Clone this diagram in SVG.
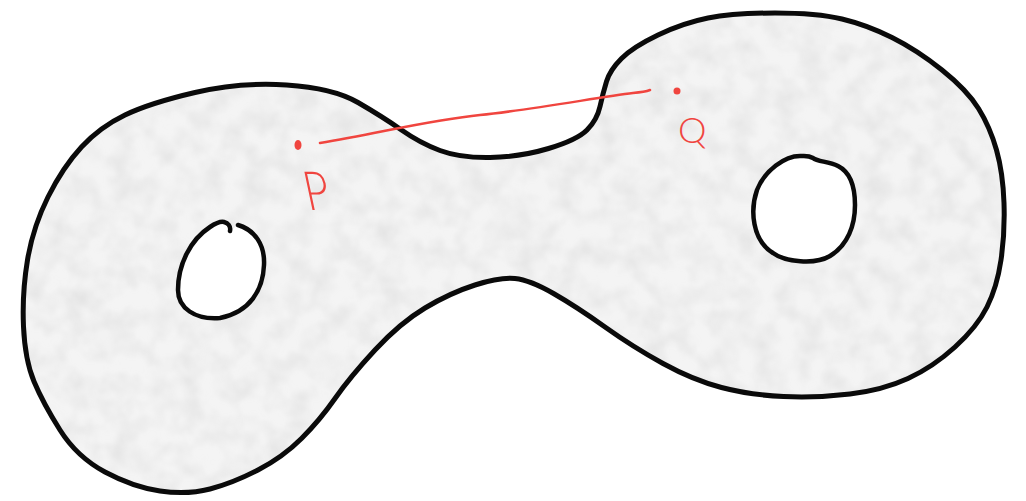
<svg xmlns="http://www.w3.org/2000/svg" width="1026" height="501" viewBox="0 0 1026 501">
  <defs>
    <style>
      .outline { fill: none; stroke: #0a0a0a; stroke-width: 5; stroke-linecap: round; stroke-linejoin: round; }
      .hole { fill: none; stroke: #0a0a0a; stroke-width: 4.5; stroke-linecap: round; stroke-linejoin: round; }
      .ink { fill: none; stroke: #f0453f; stroke-width: 2.5; stroke-linecap: round; }
      .dot { fill: #f0453f; }
      .label { fill: #f0453f; font-family: "Lato", "Liberation Sans", sans-serif; font-weight: 300; }
    </style>
    <!-- outer boundary of the two-holed surface -->
    <path id="rim" d="M195 92.5 Q240 82 286.5 85 Q333 88 358 102.5 Q383 117 401.5 130 Q420 143 440 150.5 Q460 158 490 157.5 Q520 157 548.5 148.5 Q577 140 587 130 Q597 120 600 106.5 Q603 93 606.5 81.5 Q610 70 621.5 58.5 Q633 47 658 35 Q683 23 708 18 Q733 13 775 13 Q817 13 842 19 Q867 25 892 37.5 Q917 50 942 70 Q967 90 978.5 108.5 Q990 127 996.5 150 Q1003 173 1004 203 Q1005 233 1001 260 Q997 287 987 307 Q977 327 955 347 Q933 367 908 378.5 Q883 390 850 394 Q817 398 783.5 396.5 Q750 395 721.5 387.5 Q693 380 663 363.5 Q633 347 605 327 Q577 307 553.5 293.5 Q530 280 515 278.5 Q500 277 475 285 Q450 293 425 308 Q400 323 375 350 Q350 377 335 398.5 Q320 420 301.5 438.5 Q283 457 258 470 Q233 483 210 489 Q187 495 160 491 Q133 487 105 472 Q77 457 60 430 Q43 403 34 381.5 Q25 360 23.5 326.5 Q22 293 27.5 260 Q33 227 48 197 Q63 167 81.5 147 Q100 127 125 115 Q150 103 195 92.5 Z"/>
    <path id="holeR" d="M800 156 C785 156 765 170 757 190 C750 210 752 240 773 253 C785 262 815 265 830 256 C848 245 855 225 855 205 C855 185 850 172 838 166 C828 161 818 162 813 158 C808 155 804 156 800 156 Z"/>
    <clipPath id="surfaceClip">
      <path clip-rule="evenodd" d="M195 92.5 Q240 82 286.5 85 Q333 88 358 102.5 Q383 117 401.5 130 Q420 143 440 150.5 Q460 158 490 157.5 Q520 157 548.5 148.5 Q577 140 587 130 Q597 120 600 106.5 Q603 93 606.5 81.5 Q610 70 621.5 58.5 Q633 47 658 35 Q683 23 708 18 Q733 13 775 13 Q817 13 842 19 Q867 25 892 37.5 Q917 50 942 70 Q967 90 978.5 108.5 Q990 127 996.5 150 Q1003 173 1004 203 Q1005 233 1001 260 Q997 287 987 307 Q977 327 955 347 Q933 367 908 378.5 Q883 390 850 394 Q817 398 783.5 396.5 Q750 395 721.5 387.5 Q693 380 663 363.5 Q633 347 605 327 Q577 307 553.5 293.5 Q530 280 515 278.5 Q500 277 475 285 Q450 293 425 308 Q400 323 375 350 Q350 377 335 398.5 Q320 420 301.5 438.5 Q283 457 258 470 Q233 483 210 489 Q187 495 160 491 Q133 487 105 472 Q77 457 60 430 Q43 403 34 381.5 Q25 360 23.5 326.5 Q22 293 27.5 260 Q33 227 48 197 Q63 167 81.5 147 Q100 127 125 115 Q150 103 195 92.5 Z M238 225 C255 230 265 245 264 265 C263 290 250 312 220 318 C195 320 178 308 178 290 C178 265 190 240 210 227 C216 223 220 221 224 222 C228 223 231 226 230 231 Z M800 156 C785 156 765 170 757 190 C750 210 752 240 773 253 C785 262 815 265 830 256 C848 245 855 225 855 205 C855 185 850 172 838 166 C828 161 818 162 813 158 C808 155 804 156 800 156 Z"/>
    </clipPath>
    <!-- soft mottled pencil shading -->
    <filter id="grain" x="0" y="0" width="100%" height="100%">
      <feTurbulence type="fractalNoise" baseFrequency="0.045" numOctaves="3" seed="7" result="n"/>
      <feColorMatrix in="n" type="matrix" values="0 0 0 0 0.5  0 0 0 0 0.5  0 0 0 0 0.5  0.5 0 0 0 -0.18"/>
      <feGaussianBlur stdDeviation="1.6"/>
    </filter>
  </defs>

  <rect width="1026" height="501" fill="#ffffff"/>

  <g id="surface">
    <g clip-path="url(#surfaceClip)">
      <rect x="0" y="0" width="1026" height="501" fill="#f4f4f4"/>
      <rect x="0" y="0" width="1026" height="501" filter="url(#grain)"/>
    </g>
    <use href="#rim" class="outline"/>
  </g>

  <g id="hole-left">
    <path class="hole" d="M238 225 C255 230 265 245 264 265 C263 290 250 312 220 318 C195 320 178 308 178 290 C178 265 190 240 210 227 C216 223 220 221 224 222 C228 223 231 226 230 231"/>
  </g>

  <g id="hole-right">
    <use href="#holeR" class="hole"/>
  </g>

  <g id="connectors">
    <path class="ink" d="M320 143 C380 133 430 120 480 115 S600 97 633 93 Q645 92 650 90"/>
  </g>

  <g id="point-P">
    <ellipse class="dot" cx="298" cy="145" rx="3.5" ry="5"/>
    <text class="label" font-size="54" transform="translate(308 210) skewX(12) scale(0.8 1)">P</text>
  </g>

  <g id="point-Q">
    <circle class="dot" cx="677" cy="91" r="3.5"/>
    <text class="label" font-size="36" x="678" y="143">Q</text>
  </g>
</svg>
